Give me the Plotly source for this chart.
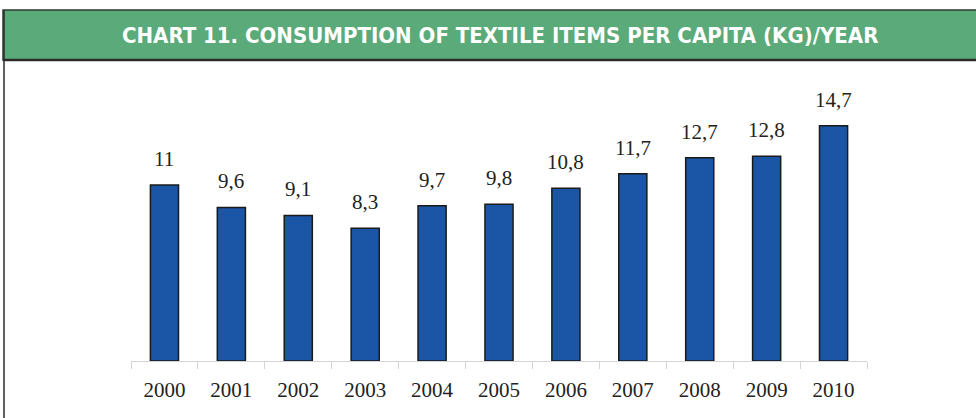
import plotly.graph_objects as go

years = ["2000", "2001", "2002", "2003", "2004", "2005", "2006", "2007", "2008", "2009", "2010"]
values = [11, 9.6, 9.1, 8.3, 9.7, 9.8, 10.8, 11.7, 12.7, 12.8, 14.7]
labels = ["11", "9,6", "9,1", "8,3", "9,7", "9,8", "10,8", "11,7", "12,7", "12,8", "14,7"]
title = "CHART 11. CONSUMPTION OF TEXTILE ITEMS PER CAPITA (KG)/YEAR"

W, H = 976, 418
fig = go.Figure()
fig.add_trace(go.Bar(
    x=years, y=values,
    marker=dict(color="#1b55a6", line=dict(color="#1a1a1a", width=1.5)),
    width=0.42,
))

def px_x(p):
    return p / W

def px_y(p):
    return 1 - p / H

annotations = [
    dict(text="<b>" + title + "</b>", xref="paper", yref="paper",
         x=px_x(500), y=px_y(35), xanchor="center", yanchor="middle",
         showarrow=False,
         font=dict(family="Liberation Sans Narrow, DejaVu Sans Condensed", size=22, color="white")),
]
for i, (v, lab) in enumerate(zip(values, labels)):
    annotations.append(dict(
        x=i, y=v, xref="x", yref="y", text=lab, showarrow=False,
        xanchor="center", yanchor="bottom", yshift=12,
        font=dict(family="Liberation Serif", size=21, color="#222222"),
    ))

fig.update_layout(
    width=W, height=H, margin=dict(l=0, r=0, t=0, b=0),
    paper_bgcolor="white", plot_bgcolor="white", showlegend=False,
    xaxis=dict(domain=[px_x(131), px_x(867)], type="category",
               showline=True, linecolor="#d4d4d4", linewidth=1,
               ticks="outside", tickson="boundaries", ticklen=7, tickcolor="#d4d4d4",
               tickfont=dict(family="Liberation Serif", size=21, color="#222222"),
               tickangle=0, ticklabelstandoff=10, showgrid=False),
    yaxis=dict(domain=[px_y(361), px_y(70)], range=[0, 291 / 16], visible=False,
               showgrid=False),
    shapes=[
        dict(type="rect", xref="paper", yref="paper", x0=px_x(3), x1=1.01,
             y0=px_y(60), y1=px_y(10), fillcolor="#5aaa7a",
             line=dict(color="#2e3b33", width=1.5), layer="below"),
        dict(type="line", xref="paper", yref="paper", x0=px_x(3), x1=1.01,
             y0=px_y(60), y1=px_y(60), line=dict(color="#2b2b2b", width=2.5)),
        dict(type="line", xref="paper", yref="paper", x0=px_x(4), x1=px_x(4),
             y0=px_y(10), y1=-0.01, line=dict(color="#2b2b2b", width=1.5)),
    ],
    annotations=annotations,
)

fig.write_html("out.html")
